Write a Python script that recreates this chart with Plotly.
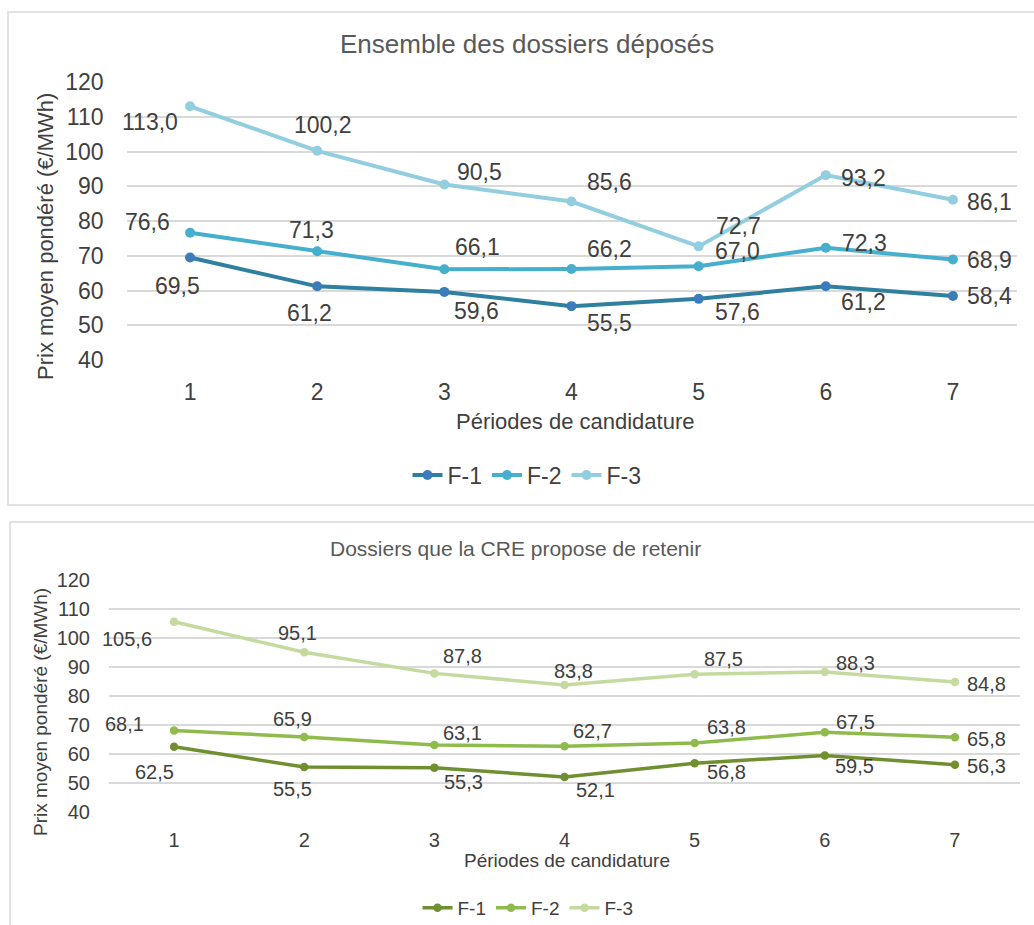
import plotly.graph_objects as go

W, H = 1034, 925

periods = [1, 2, 3, 4, 5, 6, 7]
series_names = ["F-1", "F-2", "F-3"]

top_f1 = [69.5, 61.2, 59.6, 55.5, 57.6, 61.2, 58.4]
top_f2 = [76.6, 71.3, 66.1, 66.2, 67.0, 72.3, 68.9]
top_f3 = [113.0, 100.2, 90.5, 85.6, 72.7, 93.2, 86.1]

bot_f1 = [62.5, 55.5, 55.3, 52.1, 56.8, 59.5, 56.3]
bot_f2 = [68.1, 65.9, 63.1, 62.7, 63.8, 67.5, 65.8]
bot_f3 = [105.6, 95.1, 87.8, 83.8, 87.5, 88.3, 84.8]

top_title = "Ensemble des dossiers déposés"
bot_title = "Dossiers que la CRE propose de retenir"
x_title = "Périodes de candidature"
y_title = "Prix moyen pondéré (€/MWh)"
y_ticks = [40, 50, 60, 70, 80, 90, 100, 110, 120]

# ---- styles ----
FONT = "Liberation Sans"
TXT = "#404040"
GRID = "#d9d9d9"
top_line_colors = ["#2f7f9f", "#45afcd", "#93cde0"]
top_marker_colors = ["#3b7dbb", "#45afcd", "#93cde0"]
bot_line_colors = ["#6f8f30", "#8fbb4d", "#c4da9e"]
bot_marker_colors = ["#6f8f30", "#8fbb4d", "#c4da9e"]

# label offsets in pixels (dx right, dy down) per point
top_off = [
    [(-13, 29), (-8, 27), (32, 19), (38, 17), (39, 13), (38, 16), (37, 0)],
    [(-43, -11), (-6, -21), (33, -22), (38, -20), (39, -15), (39, -5), (37, 0)],
    [(-40, 16), (6, -26), (35, -13), (38, -20), (40, -20), (38, 3), (37, 2)],
]
bot_off = [
    [(-20, 25), (-12, 22), (29, 14), (31, 13), (32, 9), (30, 11), (32, 1)],
    [(-50, -7), (-12, -18), (28, -12), (28, -15), (32, -16), (31, -10), (32, 2)],
    [(-47, 17), (-7, -19), (28, -17), (9, -14), (29, -15), (31, -9), (32, 2)],
]


def px_x(p):
    return p / W


def px_y(p):
    return 1 - p / H


fig = go.Figure()
annotations = []

panels = [
    dict(series=[top_f1, top_f2, top_f3], lc=top_line_colors, mc=top_marker_colors,
         xa="x", ya="y", legend="legend", off=top_off, lfs=23, lw=4, ms=10),
    dict(series=[bot_f1, bot_f2, bot_f3], lc=bot_line_colors, mc=bot_marker_colors,
         xa="x2", ya="y2", legend="legend2", off=bot_off, lfs=20, lw=3.5, ms=8.5),
]

for pn in panels:
    for i, (name, vals) in enumerate(zip(series_names, pn["series"])):
        fig.add_trace(go.Scatter(
            x=periods, y=vals, name=name, mode="lines+markers",
            line=dict(color=pn["lc"][i], width=pn["lw"]),
            marker=dict(color=pn["mc"][i], size=pn["ms"]),
            xaxis=pn["xa"], yaxis=pn["ya"], legend=pn["legend"],
            cliponaxis=False, hoverinfo="skip",
        ))
        for j, (xv, yv) in enumerate(zip(periods, vals)):
            dx, dy = pn["off"][i][j]
            annotations.append(dict(
                x=xv, y=yv, xref=pn["xa"], yref=pn["ya"],
                text=f"{yv:.1f}".replace(".", ","), showarrow=False,
                xanchor="center", yanchor="middle",
                xshift=dx, yshift=-dy,
                font=dict(family=FONT, size=pn["lfs"], color=TXT),
            ))


def paper_text(px, py, text, size, color=TXT, angle=0):
    return dict(x=px_x(px), y=px_y(py), xref="paper", yref="paper", text=text,
                showarrow=False, xanchor="center", yanchor="middle", textangle=angle,
                font=dict(family=FONT, size=size, color=color))


annotations += [
    paper_text(527, 44, top_title, 26, "#595959"),
    paper_text(575, 421, x_title, 22),
    paper_text(45, 237, y_title, 22, angle=-90),
    paper_text(515, 548, bot_title, 21, "#595959"),
    paper_text(567, 860, x_title, 19),
    paper_text(40, 712, y_title, 19, angle=-90),
]

shapes = [
    dict(type="rect", xref="paper", yref="paper", x0=px_x(8), x1=1.02, y0=px_y(505), y1=px_y(12),
         line=dict(color=GRID, width=1.5), fillcolor="rgba(0,0,0,0)"),
    dict(type="rect", xref="paper", yref="paper", x0=px_x(10), x1=1.02, y0=-0.05, y1=px_y(522),
         line=dict(color=GRID, width=1.5), fillcolor="rgba(0,0,0,0)"),
]

xcommon = dict(range=[0.5, 7.5], tickmode="array", tickvals=periods, showgrid=False,
               zeroline=False, showline=False, ticks="", automargin=False)
ycommon = dict(range=[40, 120], tickmode="array", tickvals=y_ticks, showgrid=True,
               gridcolor=GRID, gridwidth=1.5, zeroline=False, showline=False, ticks="",
               automargin=False)

fig.update_layout(
    width=W, height=H, margin=dict(l=0, r=0, t=0, b=0, autoexpand=False),
    paper_bgcolor="white", plot_bgcolor="white",
    showlegend=True,
    xaxis=dict(**xcommon, domain=[px_x(126.5), px_x(1016.5)], anchor="y",
               tickfont=dict(family=FONT, size=23, color=TXT), ticklabelstandoff=16),
    yaxis=dict(**ycommon, domain=[px_y(360), px_y(82)], anchor="x",
               tickfont=dict(family=FONT, size=23, color=TXT), ticklabelstandoff=22),
    xaxis2=dict(**xcommon, domain=[px_x(109), px_x(1020)], anchor="y2",
                tickfont=dict(family=FONT, size=20, color=TXT), ticklabelstandoff=14),
    yaxis2=dict(**ycommon, domain=[px_y(812), px_y(580)], anchor="x2",
                tickfont=dict(family=FONT, size=20, color=TXT), ticklabelstandoff=18),
    legend=dict(orientation="h", x=px_x(527), y=px_y(475), xanchor="center", yanchor="middle",
                font=dict(family=FONT, size=23, color=TXT), bgcolor="rgba(0,0,0,0)",
                itemwidth=30, tracegroupgap=0),
    legend2=dict(orientation="h", x=px_x(528), y=px_y(908), xanchor="center", yanchor="middle",
                 font=dict(family=FONT, size=19, color=TXT), bgcolor="rgba(0,0,0,0)",
                 itemwidth=30, tracegroupgap=0),
    annotations=annotations,
    shapes=shapes,
)

fig.write_html(
    "out.html",
    config={"displayModeBar": False},
    post_script="document.body.style.margin='0';document.body.style.overflow='hidden';",
)
